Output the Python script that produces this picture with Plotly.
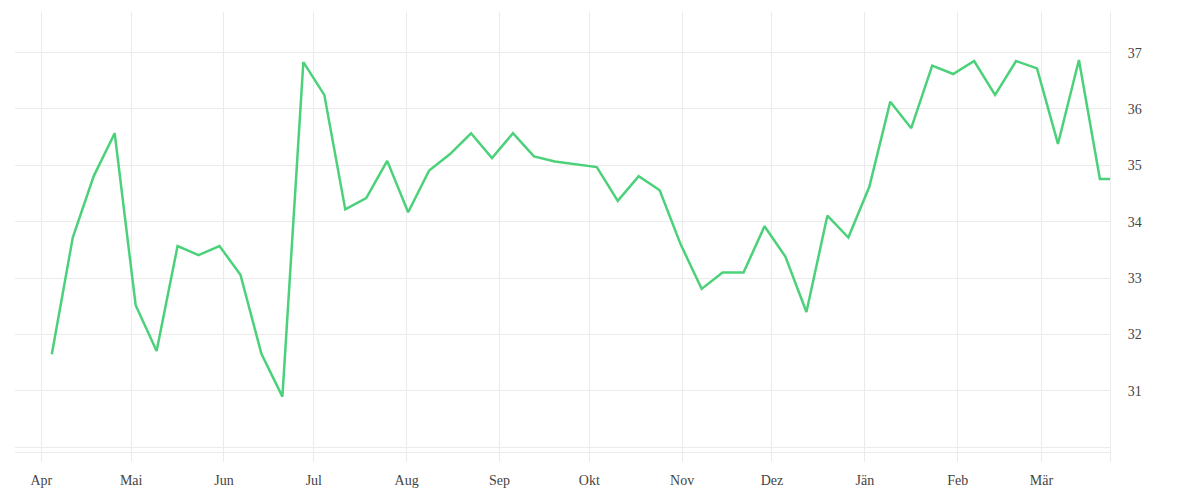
import plotly.graph_objects as go

# weekly readings (dates at noon)
dates = [
    "2022-04-04 12:00", "2022-04-11 12:00", "2022-04-18 12:00", "2022-04-25 12:00",
    "2022-05-02 12:00", "2022-05-09 12:00", "2022-05-16 12:00", "2022-05-23 12:00",
    "2022-05-30 12:00", "2022-06-06 12:00", "2022-06-13 12:00", "2022-06-20 12:00",
    "2022-06-27 12:00", "2022-07-04 12:00", "2022-07-11 12:00", "2022-07-18 12:00",
    "2022-07-25 12:00", "2022-08-01 12:00", "2022-08-08 12:00", "2022-08-15 12:00",
    "2022-08-22 12:00", "2022-08-29 12:00", "2022-09-05 12:00", "2022-09-12 12:00",
    "2022-09-19 12:00", "2022-09-26 12:00", "2022-10-03 12:00", "2022-10-10 12:00",
    "2022-10-17 12:00", "2022-10-24 12:00", "2022-10-31 12:00", "2022-11-07 12:00",
    "2022-11-14 12:00", "2022-11-21 12:00", "2022-11-28 12:00", "2022-12-05 12:00",
    "2022-12-12 12:00", "2022-12-19 12:00", "2022-12-26 12:00", "2023-01-02 12:00",
    "2023-01-09 12:00", "2023-01-16 12:00", "2023-01-23 12:00", "2023-01-30 12:00",
    "2023-02-06 12:00", "2023-02-13 12:00", "2023-02-20 12:00", "2023-02-27 12:00",
    "2023-03-06 12:00", "2023-03-13 12:00", "2023-03-20 12:00", "2023-03-27 12:00",
]
values = [
    31.65, 33.72, 34.81, 35.57, 32.52, 31.71, 33.57, 33.41,
    33.57, 33.06, 31.66, 30.90, 36.83, 36.25, 34.22, 34.42,
    35.08, 34.17, 34.91, 35.20, 35.57, 35.13, 35.57, 35.16,
    35.07, 35.02, 34.97, 34.37, 34.81, 34.56, 33.60, 32.81,
    33.10, 33.10, 33.92, 33.38, 32.40, 34.11, 33.72, 34.62,
    36.13, 35.66, 36.77, 36.62, 36.85, 36.25, 36.85, 36.72,
    35.38, 36.87, 34.76, 34.76,
]

month_ticks = [
    "2022-04-01", "2022-05-01", "2022-06-01", "2022-07-01", "2022-08-01", "2022-09-01",
    "2022-10-01", "2022-11-01", "2022-12-01", "2023-01-01", "2023-02-01", "2023-03-01",
]
month_labels = ["Apr", "Mai", "Jun", "Jul", "Aug", "Sep", "Okt", "Nov", "Dez", "Jän", "Feb", "Mär"]

y_ticks = [30, 31, 32, 33, 34, 35, 36, 37]
y_labels = ["", "31", "32", "33", "34", "35", "36", "37"]

grid = "#ebebeb"

fig = go.Figure(
    go.Scatter(x=dates, y=values, mode="lines",
               line=dict(color="#4cd17b", width=2.5),
               hoverinfo="x+y")
)

# page body adds an 8px margin, so the figure is a bit smaller than the window
fig.update_layout(
    width=1184, height=484,
    margin=dict(l=7, r=82, t=4, b=24),
    paper_bgcolor="white", plot_bgcolor="white",
    showlegend=False,
    font=dict(family="Liberation Serif", size=14, color="#444"),
)

fig.update_xaxes(
    range=["2022-03-23 05:00", "2023-03-23 21:00"],
    tickvals=month_ticks, ticktext=month_labels,
    showgrid=True, gridcolor=grid, gridwidth=1,
    showline=True, linecolor=grid, linewidth=1,
    anchor="free", position=0.022,
    ticks="", ticklabelstandoff=15,
    zeroline=False,
)
fig.update_yaxes(
    range=[29.74, 37.72],
    side="right",
    tickvals=y_ticks, ticktext=y_labels,
    showgrid=True, gridcolor=grid, gridwidth=1,
    showline=True, linecolor=grid, linewidth=1,
    ticks="", ticklabelstandoff=14,
    zeroline=False,
)

fig.write_html("out.html", config={"displayModeBar": False})
